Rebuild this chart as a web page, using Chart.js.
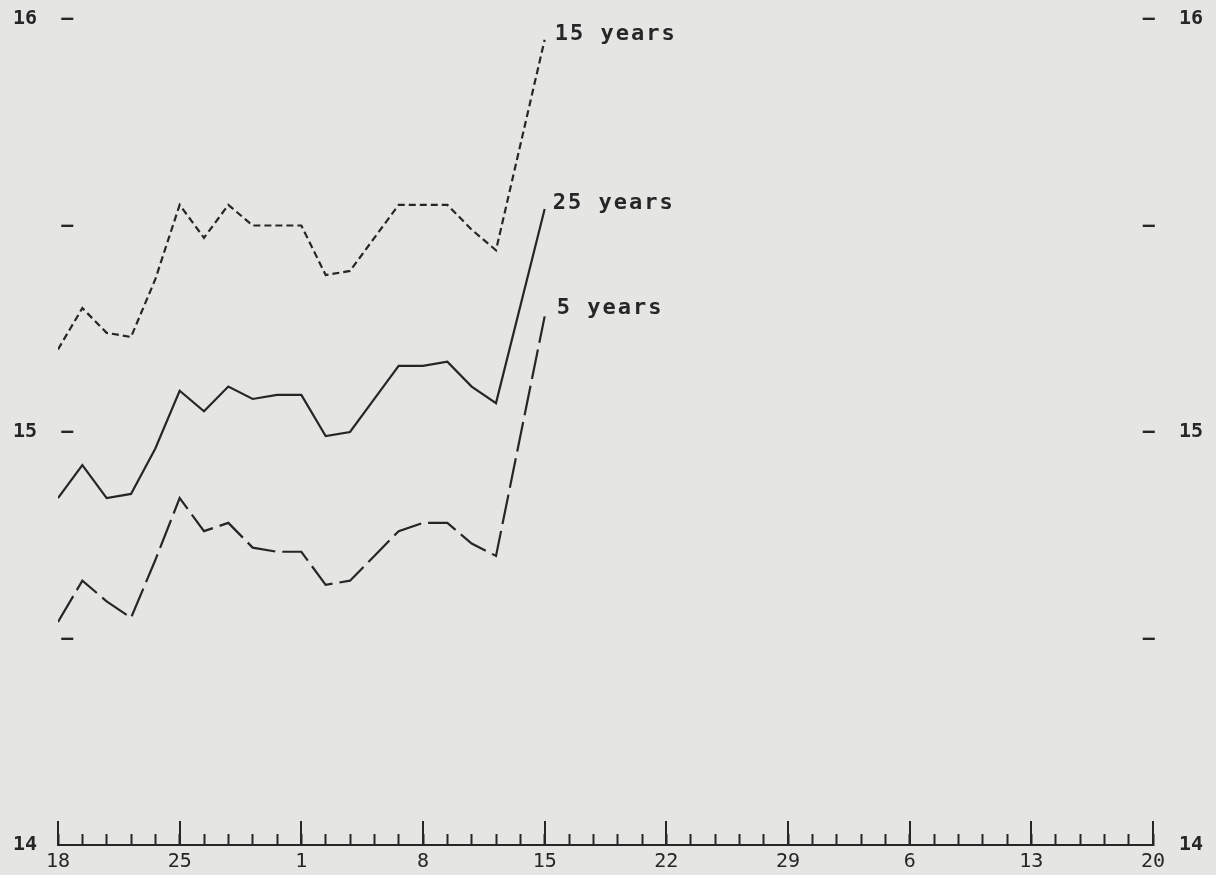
<!DOCTYPE html>
<html>
<head>
<meta charset="utf-8">
<script src="https://cdn.jsdelivr.net/npm/chart.js@4.4.1/dist/chart.umd.min.js"></script>
<style>
  html, body { margin: 0; padding: 0; background: #e5e5e3; }
  #wrap { width: 1216px; height: 875px; }
  canvas { display: block; }
</style>
</head>
<body>
<div id="wrap"><canvas id="c" width="1216" height="875"></canvas></div>
<script>
// ---- data (trading-day index along the x axis; index 19 has no observation) ----
const dayIndex = [0,1,2,3,4,5,6,7,8,9,10,11,12,13,14,15,16,17,18,20];
const yields15 = [15.20,15.30,15.24,15.23,15.37,15.55,15.47,15.55,15.50,15.50,15.50,15.38,15.39,15.47,15.55,15.55,15.55,15.49,15.44,15.95];
const yields25 = [14.84,14.92,14.84,14.85,14.96,15.10,15.05,15.11,15.08,15.09,15.09,14.99,15.00,15.08,15.16,15.16,15.17,15.11,15.07,15.54];
const yields5  = [14.54,14.64,14.59,14.55,14.69,14.84,14.76,14.78,14.72,14.71,14.71,14.63,14.64,14.70,14.76,14.78,14.78,14.73,14.70,15.28];
const dateLabels = ['18','25','1','8','15','22','29','6','13','20'];
const seriesNames = ['15 years','25 years','5 years'];
const leftTickLabels  = {16:'16  \u2014', 15.5:'    \u2014', 15:'15  \u2014', 14.5:'    \u2014', 14:'14'};
const rightTickLabels = {16:'\u2014  16', 15.5:'\u2014    ', 15:'\u2014  15', 14.5:'\u2014    ', 14:'14'};

const INK = '#262626';
const MONO = '"DejaVu Sans Mono", "Liberation Mono", monospace';

const toPoints = vals => vals.map((v, i) => ({x: dayIndex[i], y: v}));

const plotterMarks = {
  id: 'plotterMarks',
  afterDraw(chart) {
    const {ctx, scales: {x, y}} = chart;
    ctx.save();
    ctx.strokeStyle = INK;
    ctx.lineWidth = 2;
    const base = y.getPixelForValue(14);
    for (let v = 0; v <= 45; v += 5) {
      const px = Math.round(x.getPixelForValue(v));
      ctx.beginPath();
      ctx.moveTo(px, base);
      ctx.lineTo(px, base - 24);
      ctx.stroke();
    }
    ctx.font = 'bold 22px ' + MONO;
    if ('letterSpacing' in ctx) ctx.letterSpacing = '2px';
    ctx.fillStyle = INK;
    ctx.textBaseline = 'middle';
    ctx.textAlign = 'left';
    const offs = [[10,-5],[8,-6],[12,-8]];
    chart.data.datasets.forEach((ds, i) => {
      const meta = chart.getDatasetMeta(i);
      const last = meta.data[meta.data.length - 1];
      ctx.fillText(ds.label, last.x + offs[i][0], last.y + offs[i][1]);
    });
    ctx.restore();
  }
};

const common = {
  borderColor: INK,
  borderWidth: 2.2,
  pointRadius: 0,
  tension: 0,
  fill: false,
  borderJoinStyle: 'miter',
  borderCapStyle: 'butt'
};

const fixY = w => s => { s.width = w; s.paddingTop = 0; s.paddingBottom = 0; };

new Chart(document.getElementById('c'), {
  type: 'line',
  data: {
    datasets: [
      Object.assign({label: seriesNames[0], data: toPoints(yields15), borderDash: [7, 4]}, common),
      Object.assign({label: seriesNames[1], data: toPoints(yields25)}, common),
      Object.assign({label: seriesNames[2], data: toPoints(yields5), borderDash: [30, 7]}, common)
    ]
  },
  options: {
    responsive: false,
    devicePixelRatio: 1,
    animation: false,
    layout: { padding: { left: 13, right: 13, top: 19, bottom: 0 } },
    plugins: { legend: { display: false }, tooltip: { enabled: false } },
    scales: {
      x: {
        type: 'linear', min: 0, max: 45,
        border: { display: true, color: INK, width: 2 },
        grid: { display: true, drawOnChartArea: false, drawTicks: true, tickLength: -11, tickColor: INK, tickWidth: 2 },
        ticks: {
          stepSize: 1, autoSkip: false, maxRotation: 0, padding: 16,
          color: INK, font: { family: MONO, size: 20 },
          callback: v => (v % 5 === 0 ? dateLabels[v / 5] : '')
        },
        afterFit: s => { s.height = 30; }
      },
      y: {
        position: 'left', min: 14, max: 16,
        border: { display: false },
        grid: { display: false, drawTicks: false },
        ticks: {
          stepSize: 0.5, mirror: true, padding: -45, color: INK,
          font: { family: MONO, size: 20, weight: 'bold' },
          callback: v => leftTickLabels[v] ?? ''
        },
        afterFit: fixY(45)
      },
      y2: {
        position: 'right', min: 14, max: 16,
        border: { display: false },
        grid: { display: false, drawTicks: false },
        ticks: {
          stepSize: 0.5, mirror: true, padding: 50, color: INK,
          font: { family: MONO, size: 20, weight: 'bold' },
          callback: v => rightTickLabels[v] ?? ''
        },
        afterFit: fixY(50)
      }
    }
  },
  plugins: [plotterMarks]
});
</script>
</body>
</html>
